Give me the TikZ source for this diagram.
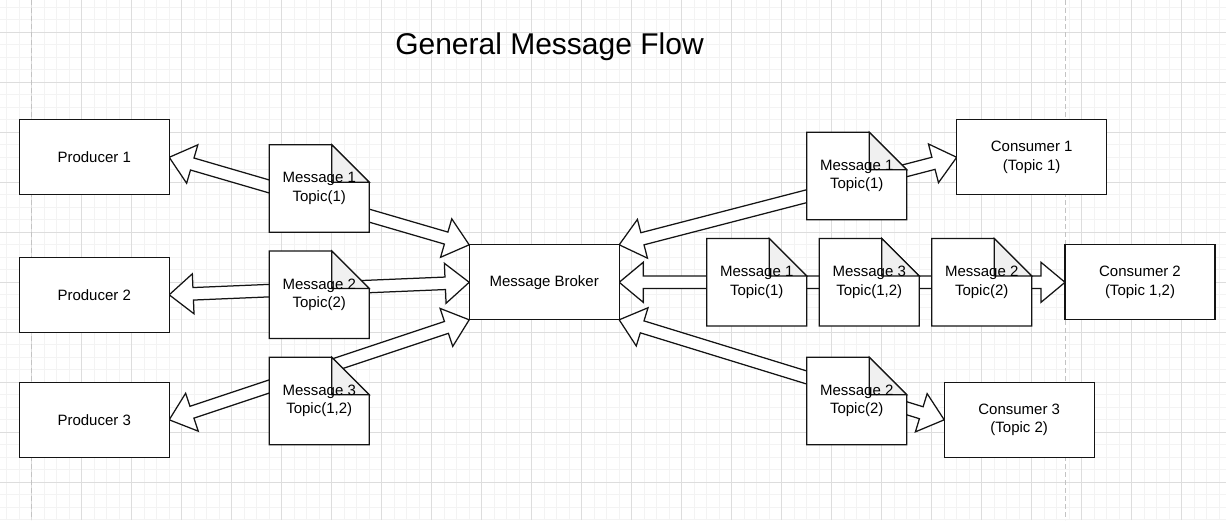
\documentclass[tikz,border=0pt]{standalone}
\usepackage{fontspec}
\setmainfont{Liberation Sans}
\usetikzlibrary{calc}
\definecolor{linecol}{RGB}{20,20,20}
\definecolor{foldgray}{RGB}{240,240,240}
\definecolor{gridminor}{RGB}{243,243,243}
\definecolor{gridmajor}{RGB}{221,221,221}
\definecolor{pagedash}{RGB}{195,195,195}
\pgfdeclarelayer{grid}
\pgfdeclarelayer{arrows}
\pgfdeclarelayer{notes}
\pgfsetlayers{grid,arrows,notes,main}
\tikzset{
  bodyfont/.style={font=\fontsize{15}{18.4}\selectfont},
  box/.style={bodyfont, draw=linecol, fill=white, line width=1.25pt,
    minimum width=150pt, minimum height=75pt, inner sep=0pt, outer sep=0pt, align=center},
  msg/.style={bodyfont, minimum width=100pt, minimum height=87.5pt,
    inner sep=0pt, outer sep=0pt, align=center},
  noteline/.style={draw=linecol, line width=1.25pt, line join=miter},
  flex/.style={draw=linecol, fill=white, line width=1.25pt, line join=miter},
  titlestyle/.style={font=\fontsize{30}{36}\selectfont, inner sep=0pt},
  minorline/.style={draw=gridminor, line width=1pt},
  majorline/.style={draw=gridmajor, line width=1pt},
  pageline/.style={draw=pagedash, line width=1pt, dash pattern=on 5pt off 3pt}
}
\newcommand\flexarrow[2]{%
  \begin{pgfonlayer}{arrows}
  \draw[flex] let \p1=(#1), \p2=(#2),
      \n1={atan2(\y1-\y2,\x1-\x2)}, \n2={veclen(\x1-\x2,\y1-\y2)} in
    [shift={(\p2)}, rotate=\n1]
    (0pt,0pt) -- (24pt,20pt) -- (24pt,6.25pt) -- (\n2,6.25pt)
    -- (\n2,-6.25pt) -- (24pt,-6.25pt) -- (24pt,-20pt) -- cycle;
  \end{pgfonlayer}}
\newcommand\noteshape[1]{%
  \begin{pgfonlayer}{notes}
  \draw[noteline, fill=white] (#1.north west) -- ([xshift=-37.5pt]#1.north east)
    -- ([yshift=-37.5pt]#1.north east) -- (#1.south east) -- (#1.south west) -- cycle;
  \draw[noteline, fill=foldgray] ([xshift=-37.5pt]#1.north east)
    -- ([xshift=-37.5pt,yshift=-37.5pt]#1.north east)
    -- ([yshift=-37.5pt]#1.north east) -- cycle;
  \end{pgfonlayer}}
\begin{document}
\begin{tikzpicture}[x=1pt,y=-1pt]
\useasboundingbox (0,0) rectangle (1226,520);
% grid
\begin{pgfonlayer}{grid}
\fill[white] (0,0) rectangle (1226,520);
\foreach \i in {0,...,97} {\draw[minorline] ({6.7+12.5*\i},0) -- ({6.7+12.5*\i},520);}
\foreach \i in {0,...,41} {\draw[minorline] (0,{7.3+12.5*\i}) -- (1226,{7.3+12.5*\i});}
\foreach \i in {0,...,23} {\draw[majorline] ({31.7+50*\i},0) -- ({31.7+50*\i},520);}
\foreach \i in {0,...,9} {\draw[majorline] (0,{32.3+50*\i}) -- (1226,{32.3+50*\i});}
\draw[pageline] (31.7,0) -- (31.7,520);
\draw[pageline] (1065.7,0) -- (1065.7,520);
\end{pgfonlayer}

% title
\node[titlestyle, anchor=base] (title) at (549.5,54) {General Message Flow};

% producers
\node[box] (p1) at (94.2,157.3) {Producer 1};
\node[box] (p2) at (94.2,294.8) {Producer 2};
\node[box] (p3) at (94.2,419.8) {Producer 3};

% broker
\node[box] (br) at (544.2,282.3) {Message Broker};

% consumers
\node[box] (c1) at (1031.7,157.3) {Consumer 1\\(Topic 1)};
\node[box] (c2) at (1140,282.3) {Consumer 2\\(Topic 1,2)};
\node[box] (c3) at (1019.2,419.8) {Consumer 3\\(Topic 2)};

% messages left
\node[msg] (lm1) at (319.2,188.55) {Message 1\\Topic(1)};
\node[msg] (lm2) at (319.2,294.8) {Message 2\\Topic(2)};
\node[msg] (lm3) at (319.2,401.05) {Message 3\\Topic(1,2)};
% messages right
\node[msg] (rm1) at (856.7,176.05) {Message 1\\Topic(1)};
\node[msg] (qm1) at (756.7,282.3) {Message 1\\Topic(1)};
\node[msg] (qm3) at (869.2,282.3) {Message 3\\Topic(1,2)};
\node[msg] (qm2) at (981.7,282.3) {Message 2\\Topic(2)};
\node[msg] (rm2) at (856.7,401.05) {Message 2\\Topic(2)};

\foreach \m in {lm1,lm2,lm3,rm1,qm1,qm3,qm2,rm2} {\noteshape{\m}}

% junction points (hidden behind the messages)
\coordinate (j1) at ($(p1.east)!0.5!(br.north west)$);
\coordinate (j2) at ($(p2.east)!0.5!(br.west)$);
\coordinate (j3) at ($(p3.east)!0.5!(br.south west)$);
\coordinate (j4) at ($(br.north east)!0.7037!(c1.west)$);
\coordinate (j5) at ($(br.east)!0.56!(c2.west)$);
\coordinate (j6) at ($(br.south east)!0.7308!(c3.west)$);

% arrows
\flexarrow{j1}{p1.east}
\flexarrow{j1}{br.north west}
\flexarrow{j2}{p2.east}
\flexarrow{j2}{br.west}
\flexarrow{j3}{p3.east}
\flexarrow{j3}{br.south west}
\flexarrow{j4}{br.north east}
\flexarrow{j4}{c1.west}
\flexarrow{j5}{br.east}
\flexarrow{j5}{c2.west}
\flexarrow{j6}{br.south east}
\flexarrow{j6}{c3.west}
\end{tikzpicture}
\end{document}
